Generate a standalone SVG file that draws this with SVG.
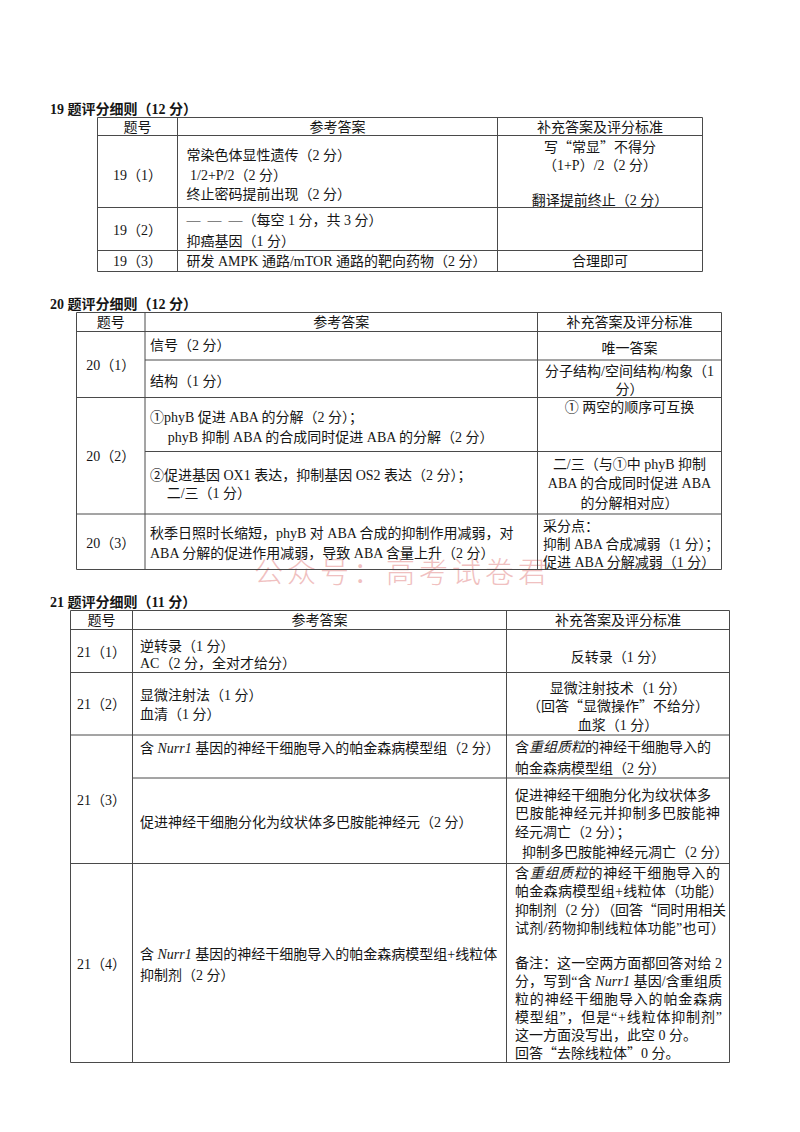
<svg xmlns="http://www.w3.org/2000/svg" width="800" height="1132" viewBox="0 0 800 1132">
<style>
.t{font-family:"Liberation Serif","Noto Sans CJK SC",serif;font-size:14px;fill:#151515}
.c{text-anchor:middle}
.b{font-weight:bold}
.i{font-style:italic}
.q{font-family:"Noto Sans CJK SC",sans-serif}
.grid line{stroke:#4a4a4a;stroke-width:1}
.wm{font-family:"Noto Sans CJK SC",sans-serif;font-size:29px;font-weight:300;fill:#f0c0c0;letter-spacing:4px}
</style>
<rect width="800" height="1132" fill="#ffffff"/>
<text class="wm" x="254" y="583">公众号：高考试卷君</text>

<g id="table19">
<text id="t19-title" class="t b" x="50" y="113.5">19 题评分细则（12 分）</text>
<g id="t19-grid" class="grid">
<line x1="97.5" y1="117.5" x2="702.5" y2="117.5"/>
<line x1="97.5" y1="135.5" x2="702.5" y2="135.5"/>
<line x1="97.5" y1="207.5" x2="702.5" y2="207.5"/>
<line x1="97.5" y1="250.5" x2="702.5" y2="250.5"/>
<line x1="97.5" y1="271.5" x2="702.5" y2="271.5"/>
<line x1="97.5" y1="117.5" x2="97.5" y2="271.5"/>
<line x1="177.5" y1="117.5" x2="177.5" y2="271.5"/>
<line x1="497.5" y1="117.5" x2="497.5" y2="271.5"/>
<line x1="702.5" y1="117.5" x2="702.5" y2="271.5"/>
</g>
<g id="t19-head">
<text class="t c" x="137.5" y="131.5">题号</text>
<text class="t c" x="337.5" y="131.5">参考答案</text>
<text class="t c" x="600" y="131.5">补充答案及评分标准</text>
</g>
<g id="t19-r1">
<text class="t c" x="137.5" y="179.5">19（1）</text>
<text class="t" x="186.5" y="160">常染色体显性遗传（2 分）</text>
<text class="t" x="190" y="179.5">1/2+P/2（2 分）</text>
<text class="t" x="186.5" y="198.5">终止密码提前出现（2 分）</text>
<text class="t c" x="600" y="151.5">写<tspan class="q">“</tspan>常显<tspan class="q">”</tspan>不得分</text>
<text class="t c" x="600" y="170">（1+P）/2（2 分）</text>
<text class="t c" x="600" y="205">翻译提前终止（2 分）</text>
</g>
<g id="t19-r2">
<text class="t c" x="137.5" y="235">19（2）</text>
<text class="t" x="186.5" y="225" xml:space="preserve">—  —  —（每空 1 分，共 3 分）</text>
<text class="t" x="186.5" y="245.5">抑癌基因（1 分）</text>
</g>
<g id="t19-r3">
<text class="t c" x="137.5" y="266">19（3）</text>
<text class="t" x="186.5" y="266">研发 AMPK 通路/mTOR 通路的靶向药物（2 分）</text>
<text class="t c" x="600" y="266">合理即可</text>
</g>
</g>

<g id="table20">
<text id="t20-title" class="t b" x="50" y="308.5">20 题评分细则（12 分）</text>
<g id="t20-grid" class="grid">
<line x1="76.5" y1="312.5" x2="721.5" y2="312.5"/>
<line x1="76.5" y1="331.5" x2="721.5" y2="331.5"/>
<line x1="145" y1="360" x2="721.5" y2="360"/>
<line x1="76.5" y1="397.5" x2="721.5" y2="397.5"/>
<line x1="145" y1="451.5" x2="721.5" y2="451.5"/>
<line x1="76.5" y1="514" x2="721.5" y2="514"/>
<line x1="76.5" y1="569.5" x2="721.5" y2="569.5"/>
<line x1="76.5" y1="312.5" x2="76.5" y2="569.5"/>
<line x1="145" y1="312.5" x2="145" y2="569.5"/>
<line x1="537.5" y1="312.5" x2="537.5" y2="569.5"/>
<line x1="721.5" y1="312.5" x2="721.5" y2="569.5"/>
</g>
<g id="t20-head">
<text class="t c" x="110.8" y="327">题号</text>
<text class="t c" x="341.3" y="327">参考答案</text>
<text class="t c" x="629.5" y="327">补充答案及评分标准</text>
</g>
<g id="t20-r1">
<text class="t c" x="110.8" y="370">20（1）</text>
<text class="t" x="150" y="350.3">信号（2 分）</text>
<text class="t" x="150" y="385.7">结构（1 分）</text>
<text class="t c" x="629.5" y="353.3">唯一答案</text>
<text class="t c" x="629.5" y="376">分子结构/空间结构/构象（1</text>
<text class="t c" x="629.5" y="394.3">分）</text>
</g>
<g id="t20-r2">
<text class="t c" x="110.8" y="461">20（2）</text>
<text class="t" x="150" y="421.7">①phyB 促进 ABA 的分解（2 分）；</text>
<text class="t" x="167.7" y="441.7">phyB 抑制 ABA 的合成同时促进 ABA 的分解（2 分）</text>
<text class="t c" x="629.5" y="412.3">① 两空的顺序可互换</text>
<text class="t" x="150" y="480">②促进基因 OX1 表达，抑制基因 OS2 表达（2 分）；</text>
<text class="t" x="166.7" y="498.3">二/三（1 分）</text>
<text class="t c" x="629.5" y="469">二/三（与①中 phyB 抑制</text>
<text class="t c" x="629.5" y="488">ABA 的合成同时促进 ABA</text>
<text class="t c" x="629.5" y="507.7">的分解相对应）</text>
</g>
<g id="t20-r3">
<text class="t c" x="110.8" y="547.7">20（3）</text>
<text class="t" x="150" y="537.7">秋季日照时长缩短，phyB 对 ABA 合成的抑制作用减弱，对</text>
<text class="t" x="150" y="557.7">ABA 分解的促进作用减弱，导致 ABA 含量上升（2 分）</text>
<text class="t" x="543" y="531">采分点：</text>
<text class="t" x="543" y="549" textLength="176" lengthAdjust="spacingAndGlyphs">抑制 ABA 合成减弱（1 分）；</text>
<text class="t" x="543" y="566.5">促进 ABA 分解减弱（1 分）</text>
</g>
</g>

<g id="table21">
<text id="t21-title" class="t b" x="50" y="606.7">21 题评分细则（11 分）</text>
<g id="t21-grid" class="grid">
<line x1="70.5" y1="610.5" x2="729.5" y2="610.5"/>
<line x1="70.5" y1="629.5" x2="729.5" y2="629.5"/>
<line x1="70.5" y1="672.5" x2="729.5" y2="672.5"/>
<line x1="70.5" y1="735" x2="729.5" y2="735"/>
<line x1="132.5" y1="778" x2="729.5" y2="778"/>
<line x1="70.5" y1="863.5" x2="729.5" y2="863.5"/>
<line x1="70.5" y1="1062.5" x2="729.5" y2="1062.5"/>
<line x1="70.5" y1="610.5" x2="70.5" y2="1062.5"/>
<line x1="132.5" y1="610.5" x2="132.5" y2="1062.5"/>
<line x1="506.5" y1="610.5" x2="506.5" y2="1062.5"/>
<line x1="729.5" y1="610.5" x2="729.5" y2="1062.5"/>
</g>
<g id="t21-head">
<text class="t c" x="101.5" y="625">题号</text>
<text class="t c" x="319.5" y="625">参考答案</text>
<text class="t c" x="618" y="625">补充答案及评分标准</text>
</g>
<g id="t21-r1">
<text class="t c" x="101.5" y="657.3">21（1）</text>
<text class="t" x="140" y="650.7">逆转录（1 分）</text>
<text class="t" x="140" y="667.7">AC（2 分，全对才给分）</text>
<text class="t c" x="618" y="661.7">反转录（1 分）</text>
</g>
<g id="t21-r2">
<text class="t c" x="101.5" y="709.3">21（2）</text>
<text class="t" x="140" y="700">显微注射法（1 分）</text>
<text class="t" x="140" y="719.3">血清（1 分）</text>
<text class="t c" x="618" y="693.3">显微注射技术（1 分）</text>
<text class="t c" x="618" y="711">（回答<tspan class="q">“</tspan>显微操作<tspan class="q">”</tspan>不给分）</text>
<text class="t c" x="618" y="730">血浆（1 分）</text>
</g>
<g id="t21-r3">
<text class="t c" x="101.5" y="805">21（3）</text>
<text class="t" x="140" y="753.3">含 <tspan class="i">Nurr1</tspan> 基因的神经干细胞导入的帕金森病模型组（2 分）</text>
<text class="t" x="515" y="751.7">含<tspan class="i">重组质粒</tspan>的神经干细胞导入的</text>
<text class="t" x="515" y="772.7">帕金森病模型组（2 分）</text>
<text class="t" x="140" y="826.7">促进神经干细胞分化为纹状体多巴胺能神经元（2 分）</text>
<text class="t" x="515" y="800">促进神经干细胞分化为纹状体多</text>
<text class="t" x="515" y="818.3" textLength="205" lengthAdjust="spacing">巴胺能神经元并抑制多巴胺能神</text>
<text class="t" x="515" y="837.3">经元凋亡（2 分）；</text>
<text class="t" x="522" y="856.7">抑制多巴胺能神经元凋亡（2 分）</text>
</g>
<g id="t21-r4">
<text class="t c" x="101.5" y="969">21（4）</text>
<text class="t" x="140" y="959">含 <tspan class="i">Nurr1</tspan> 基因的神经干细胞导入的帕金森病模型组+线粒体</text>
<text class="t" x="140" y="980">抑制剂（2 分）</text>
<text class="t" x="515" y="877.7" textLength="205" lengthAdjust="spacing">含<tspan class="i">重组质粒</tspan>的神经干细胞导入的</text>
<text class="t" x="515" y="896" textLength="208" lengthAdjust="spacing">帕金森病模型组+线粒体（功能）</text>
<text class="t" x="515" y="914.5" textLength="211" lengthAdjust="spacing">抑制剂（2 分）（回答<tspan class="q">“</tspan>同时用相关</text>
<text class="t" x="515" y="933" textLength="210" lengthAdjust="spacing">试剂/药物抑制线粒体功能”也可）</text>
<text class="t" x="515" y="968" textLength="207" lengthAdjust="spacing">备注：这一空两方面都回答对给 2</text>
<text class="t" x="515" y="986" textLength="207" lengthAdjust="spacing">分，写到“含 <tspan class="i">Nurr1</tspan> 基因/含重组质</text>
<text class="t" x="515" y="1004" textLength="207" lengthAdjust="spacing">粒的神经干细胞导入的帕金森病</text>
<text class="t" x="515" y="1022" textLength="207" lengthAdjust="spacing">模型组”，但是“+线粒体抑制剂”</text>
<text class="t" x="515" y="1040">这一方面没写出，此空 0 分。</text>
<text class="t" x="515" y="1057.7">回答<tspan class="q">“</tspan>去除线粒体<tspan class="q">”</tspan>0 分。</text>
</g>
</g>
</svg>
